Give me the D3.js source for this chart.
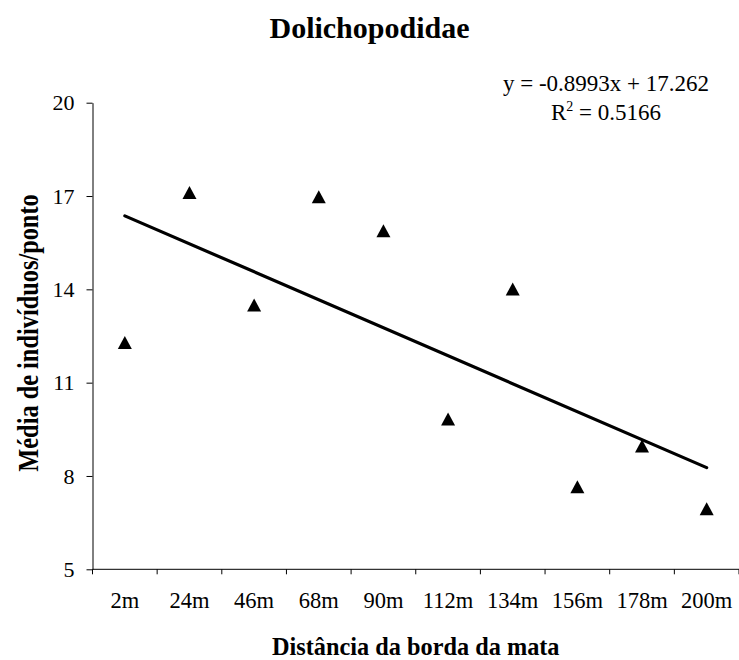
<!DOCTYPE html>
<html>
<head>
<meta charset="utf-8">
<script src="https://cdn.jsdelivr.net/npm/d3@7/dist/d3.min.js"></script>
<style>
  html, body { margin: 0; padding: 0; background: #fff; }
  svg, svg text { font-family: 'Liberation Serif', 'DejaVu Serif', serif; }
</style>
</head>
<body>
<svg id="chart" width="739" height="660"></svg>
<script>
// Distance classes from the forest edge
const categories = ["2m", "24m", "46m", "68m", "90m", "112m", "134m", "156m", "178m", "200m"];
// Mean number of Dolichopodidae individuals per sampling point
const means = [12.29, 17.11, 13.5, 16.98, 15.88, 9.83, 14.01, 7.65, 8.96, 6.95];
const yTicks = [5, 8, 11, 14, 17, 20];
// Linear trend fitted on the class index (1..10)
const slope = -0.8993;
const intercept = 17.262;
const r2 = 0.5166;

const FONT = "'Liberation Serif', 'DejaVu Serif', serif";
const svg = d3.select("#chart").attr("font-family", FONT);
const plotLeft = 92.5, plotRight = 739, plotTop = 102.7, plotBottom = 569.3;

const x = d3.scaleBand().domain(categories).range([plotLeft, plotRight]);
const y = d3.scaleLinear().domain([5, 20]).range([plotBottom, plotTop]);
const cx = c => x(c) + x.bandwidth() / 2;

// Title
svg.append("text")
  .attr("x", 369.5).attr("y", 38)
  .attr("text-anchor", "middle")
  .attr("font-weight", "bold").attr("font-size", 30)
  .text("Dolichopodidae");

// Y axis
const yAxis = svg.append("g")
  .attr("transform", `translate(${plotLeft},0)`)
  .call(d3.axisLeft(y).tickValues(yTicks).tickSize(6).tickSizeOuter(0).tickPadding(12));
yAxis.attr("font-family", FONT).attr("font-size", 22);
yAxis.select(".domain").attr("stroke", "#000");
yAxis.selectAll(".tick line").attr("stroke", "#000");
yAxis.selectAll(".tick text").attr("fill", "#000");

// X axis: line with ticks at the category boundaries
svg.append("line")
  .attr("x1", plotLeft).attr("x2", plotRight)
  .attr("y1", plotBottom).attr("y2", plotBottom)
  .attr("stroke", "#000");
const bounds = categories.map(c => x(c)).concat([x(categories[categories.length - 1]) + x.bandwidth()]);
svg.append("g").selectAll("line").data(bounds).join("line")
  .attr("x1", d => d).attr("x2", d => d)
  .attr("y1", plotBottom).attr("y2", plotBottom + 5)
  .attr("stroke", "#000");
svg.append("g").selectAll("text").data(categories).join("text")
  .attr("x", d => cx(d)).attr("y", 608)
  .attr("text-anchor", "middle")
  .attr("font-size", 22.5)
  .text(d => d);

// Axis titles (slightly condensed bold face)
svg.append("text")
  .attr("transform", `translate(${(plotLeft + plotRight) / 2},655) scale(0.935,1)`)
  .attr("text-anchor", "middle")
  .attr("font-weight", "bold").attr("font-size", 26)
  .text("Distância da borda da mata");
svg.append("text")
  .attr("transform", `translate(38,${(plotTop + plotBottom) / 2 - 3}) rotate(-90) scale(0.84,1)`)
  .attr("text-anchor", "middle")
  .attr("font-weight", "bold").attr("font-size", 29)
  .text("Média de indivíduos/ponto");

// Trend line
const first = 1, last = categories.length;
svg.append("line")
  .attr("x1", cx(categories[first - 1])).attr("y1", y(slope * first + intercept))
  .attr("x2", cx(categories[last - 1])).attr("y2", y(slope * last + intercept))
  .attr("stroke", "#000").attr("stroke-width", 3.2).attr("stroke-linecap", "round");

// Triangle markers (bounding box centred on the value)
const tri = "M0,-6.5L7,6.5L-7,6.5Z";
svg.append("g").selectAll("path").data(means).join("path")
  .attr("d", tri)
  .attr("transform", (d, i) => `translate(${cx(categories[i])},${y(d)})`)
  .attr("fill", "#000");

// Equation label
svg.append("text").attr("text-anchor", "middle").attr("font-size", 23)
  .attr("x", 606).attr("y", 91)
  .text(`y = ${slope}x + ${intercept}`);
const r = svg.append("text").attr("text-anchor", "middle").attr("font-size", 23)
  .attr("x", 606).attr("y", 120);
r.append("tspan").text("R");
r.append("tspan").attr("font-size", 14).attr("dy", -9).text("2");
r.append("tspan").attr("dy", 9).text(` = ${r2}`);
</script>
</body>
</html>
